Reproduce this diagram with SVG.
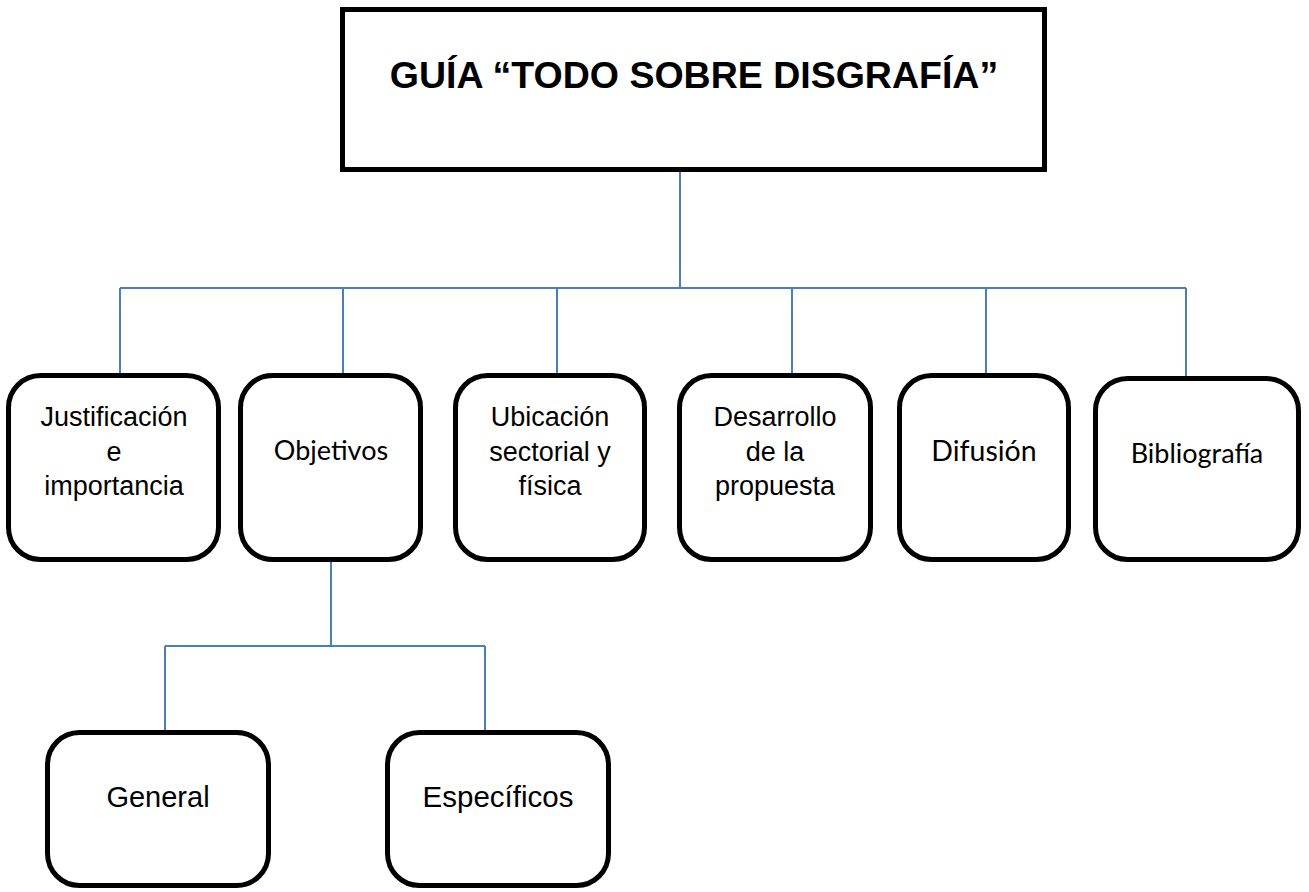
<svg xmlns="http://www.w3.org/2000/svg" width="1309" height="892" viewBox="0 0 1309 892">
<style>
.box{fill:#fff;stroke:#000;stroke-width:5}
.conn{fill:none;stroke:#4A7EBB;stroke-width:2}
.a{font-family:"Liberation Sans",Arial,sans-serif;fill:#000;text-anchor:middle}
.c{font-family:Lato,"Open Sans",sans-serif;fill:#000;text-anchor:middle}
</style>
<rect width="1309" height="892" fill="#fff"/>
<g id="connectors">
<path class="conn" d="M680,172V288M120,288H1186M120,288V374M343,288V374M557,288V374M792,288V374M986,288V374M1186,288V377"/>
<path class="conn" d="M331,562V646M165,646H485M165,646V731M485,646V731"/>
</g>
<g id="title">
<rect class="box" x="342.5" y="9.5" width="702" height="160"/>
<text class="a" x="694" y="88" font-size="37.5" font-weight="bold">GUÍA “TODO SOBRE DISGRAFÍA”</text>
</g>
<g id="n1">
<rect class="box" x="8.5" y="375.5" width="210" height="184" rx="32"/>
<text class="a" font-size="27"><tspan x="114" y="426">Justificación</tspan><tspan x="114" y="461">e</tspan><tspan x="114" y="495">importancia</tspan></text>
</g>
<g id="n2">
<rect class="box" x="240.5" y="375.5" width="180" height="184" rx="32"/>
<text class="c" x="331" y="460" font-size="27">Objetivos</text>
</g>
<g id="n3">
<rect class="box" x="455.5" y="375.5" width="189" height="184" rx="32"/>
<text class="a" font-size="27"><tspan x="550" y="426">Ubicación</tspan><tspan x="550" y="461">sectorial y</tspan><tspan x="550" y="495">física</tspan></text>
</g>
<g id="n4">
<rect class="box" x="679.5" y="375.5" width="191" height="184" rx="32"/>
<text class="a" font-size="27"><tspan x="775" y="426">Desarrollo</tspan><tspan x="775" y="461">de la</tspan><tspan x="775" y="495">propuesta</tspan></text>
</g>
<g id="n5">
<rect class="box" x="899.5" y="375.5" width="169" height="184" rx="32"/>
<text class="c" x="984" y="461" font-size="28.5">Difusión</text>
</g>
<g id="n6">
<rect class="box" x="1095.5" y="378.5" width="203" height="181" rx="32"/>
<text class="c" x="1197" y="463" font-size="27">Bibliografía</text>
</g>
<g id="n7">
<rect class="box" x="47.5" y="732.5" width="221" height="153" rx="32"/>
<text class="a" x="158" y="807" font-size="29">General</text>
</g>
<g id="n8">
<rect class="box" x="387.5" y="732.5" width="221" height="153" rx="32"/>
<text class="a" x="498" y="807" font-size="29.5">Específicos</text>
</g>
</svg>
